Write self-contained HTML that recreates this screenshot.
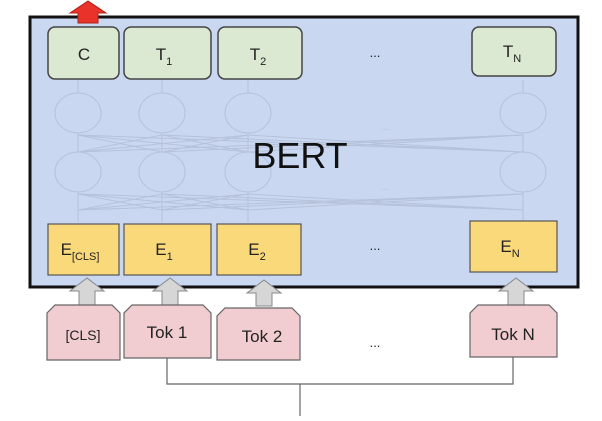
<!DOCTYPE html>
<html><head><meta charset="utf-8"><style>
body{margin:0;background:#fff;width:602px;height:416px;overflow:hidden}
text{font-family:"Liberation Sans",Arial,sans-serif;fill:#222}
</style></head><body>
<svg width="602" height="416" viewBox="0 0 602 416" xmlns="http://www.w3.org/2000/svg">
<rect x="30" y="17" width="548" height="270" fill="#c9d7f1" stroke="#111" stroke-width="3"/>
<!-- faint network -->
<g stroke="#b4c0d8" stroke-width="1" fill="none" opacity="0.9">
<ellipse cx="78" cy="113" rx="23" ry="20"/><ellipse cx="162" cy="113" rx="23" ry="20"/><ellipse cx="248" cy="113" rx="23" ry="20"/><ellipse cx="523" cy="113" rx="23" ry="20"/>
<ellipse cx="78" cy="172" rx="23" ry="20"/><ellipse cx="162" cy="172" rx="23" ry="20"/><ellipse cx="248" cy="172" rx="23" ry="20"/><ellipse cx="523" cy="172" rx="23" ry="20"/>
<path d="M78 135L162 152M78 135L248 152M78 135L523 152M162 135L78 152M162 135L248 152M162 135L523 152M248 135L78 152M248 135L162 152M248 135L523 152M523 135L78 152M523 135L162 152M523 135L248 152"/>
<path d="M78 194L162 210M78 194L248 210M78 194L523 210M162 194L78 210M162 194L248 210M162 194L523 210M248 194L78 210M248 194L162 210M248 194L523 210M523 194L78 210M523 194L162 210M523 194L248 210"/>
<path d="M78 80V93M162 80V93M248 80V93M523 80V93M78 133V152M162 133V152M248 133V152M523 133V152M78 192V222M162 192V222M248 192V222M523 192V222"/>
</g>
<text x="385" y="130" font-size="10" fill="#b4c0d8" text-anchor="middle" style="fill:#b4c0d8">...</text>
<text x="385" y="190" font-size="10" text-anchor="middle" style="fill:#b4c0d8">...</text>
<text x="300" y="168" font-size="36" text-anchor="middle" style="fill:#111">BERT</text>
<!-- red arrow -->
<path d="M78 23V13H70L88 1L106 13H98V23Z" fill="#e8322a" stroke="#b02018" stroke-width="1"/>
<!-- top boxes -->
<g fill="#dbe8d2" stroke="#444" stroke-width="1.5">
<rect x="48" y="27" width="71" height="52" rx="7"/><rect x="124" y="27" width="87" height="52" rx="7"/><rect x="218" y="27" width="84" height="52" rx="7"/><rect x="472" y="27" width="84" height="49" rx="7"/>
</g>
<g font-size="17" text-anchor="middle">
<text x="84" y="60">C</text>
<text x="164" y="60">T<tspan font-size="11" dy="5">1</tspan></text>
<text x="258" y="60">T<tspan font-size="11" dy="5">2</tspan></text>
<text x="512" y="57">T<tspan font-size="11" dy="5">N</tspan></text>
</g>
<text x="375" y="57" font-size="13" text-anchor="middle">...</text>
<!-- E boxes -->
<g fill="#fad97a" stroke="#555" stroke-width="1.2">
<rect x="48" y="224" width="71" height="51"/><rect x="124" y="224" width="87" height="51"/><rect x="217" y="224" width="84" height="51"/><rect x="470" y="221" width="87" height="51"/>
</g>
<g font-size="17" text-anchor="middle">
<text x="80" y="255">E<tspan font-size="11" dy="5">[CLS]</tspan></text>
<text x="164" y="255">E<tspan font-size="11" dy="5">1</tspan></text>
<text x="257" y="255">E<tspan font-size="11" dy="5">2</tspan></text>
<text x="510" y="252">E<tspan font-size="11" dy="5">N</tspan></text>
</g>
<text x="375" y="250" font-size="13" text-anchor="middle">...</text>
<!-- gray arrows -->
<g fill="#d6d6d6" stroke="#888" stroke-width="1">
<path d="M79 305V291H70L87 278L104 291H95V305Z"/>
<path d="M162 305V291H153L170 278L187 291H178V305Z"/>
<path d="M256 306V293H247L264 280L281 293H272V306Z"/>
<path d="M508 305V291H499L516 278L533 291H524V305Z"/>
</g>
<!-- Tok boxes -->
<g fill="#f1cdd1" stroke="#666" stroke-width="1.2">
<path d="M47 360V313L55 305H112L120 313V360Z"/>
<path d="M124 358V313L132 305H203L211 313V358Z"/>
<path d="M217 360V316L225 308H292L300 316V360Z"/>
<path d="M470 357V313L478 305H549L557 313V357Z"/>
</g>
<g font-size="17" text-anchor="middle">
<text x="83" y="340" font-size="14">[CLS]</text>
<text x="167" y="338">Tok 1</text>
<text x="262" y="342">Tok 2</text>
<text x="513" y="340">Tok N</text>
</g>
<text x="375" y="347" font-size="13" text-anchor="middle">...</text>
<path d="M167 358V384H513V357M300 384V416" fill="none" stroke="#666" stroke-width="1.2"/>
</svg>
</body></html>
